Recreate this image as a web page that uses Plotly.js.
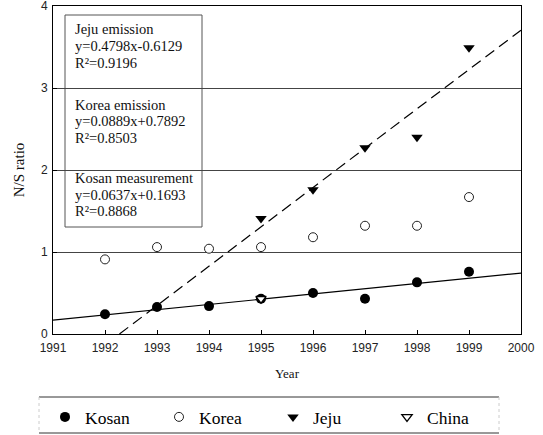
<!DOCTYPE html>
<html>
<head>
<meta charset="utf-8">
<script src="https://cdn.plot.ly/plotly-3.0.1.min.js"></script>
<style>
  html, body { margin: 0; padding: 0; background: #fff; }
  #chart { width: 543px; height: 435px; }
</style>
</head>
<body>
<div id="chart"></div>
<script>
// N/S ratio by year
const years = [1992, 1993, 1994, 1995, 1996, 1997, 1998, 1999];
const kosan = [0.24, 0.33, 0.34, 0.43, 0.50, 0.43, 0.63, 0.76];
const korea = [0.91, 1.06, 1.04, 1.06, 1.18, 1.32, 1.32, 1.67];
const jejuYears = [1995, 1996, 1997, 1998, 1999];
const jeju = [1.41, 1.76, 2.27, 2.40, 3.49];
const chinaYears = [1995];
const china = [0.43];

// Regression fits, x counted in years since 1991
const fitNames = ['Jeju emission', 'Korea emission', 'Kosan measurement'];
const fitSlopes = [0.4798, 0.0889, 0.0637];
const fitIntercepts = [-0.6129, 0.7892, 0.1693];
const fitR2 = [0.9196, 0.8503, 0.8868];
const baseYear = 1991;

const xTicks = [1991, 1992, 1993, 1994, 1995, 1996, 1997, 1998, 1999, 2000];
const yTicks = [0, 1, 2, 3, 4];

// Plot-area geometry in pixels, used to place the text box and legend frame
const W = 543, H = 435;
const M = { l: 53, r: 22, t: 6, b: 101 };
const PW = W - M.l - M.r, PH = H - M.t - M.b;
const px = x => (x - M.l) / PW;
const py = y => (H - M.b - y) / PH;

const SERIF = 'Liberation Serif, Times New Roman, serif';
const SANS = 'Liberation Sans, Arial, sans-serif';

function fitLine(i, yearFrom, yearTo) {
  const s = fitSlopes[i], b = fitIntercepts[i];
  const f = yr => s * (yr - baseYear) + b;
  let x0 = yearFrom;
  if (f(x0) < 0) x0 = baseYear - b / s; // start where the fit crosses zero
  return { x: [x0, yearTo], y: [f(x0), f(yearTo)] };
}

const jejuFit = fitLine(0, baseYear, 2000);
const kosanFit = fitLine(2, baseYear, 2000);

const traces = [
  { x: kosanFit.x, y: kosanFit.y, mode: 'lines', showlegend: false, hoverinfo: 'skip',
    line: { color: '#000', width: 1.2 } },
  { x: jejuFit.x, y: jejuFit.y, mode: 'lines', showlegend: false, hoverinfo: 'skip',
    line: { color: '#000', width: 1.2, dash: '11px,6px' } },
  { x: years, y: kosan, name: 'Kosan', mode: 'markers', type: 'scatter',
    marker: { symbol: 'circle', size: 10, color: '#000' } },
  { x: years, y: korea, name: 'Korea', mode: 'markers', type: 'scatter',
    marker: { symbol: 'circle', size: 9, color: '#fff', line: { color: '#222', width: 1 } } },
  { x: jejuYears, y: jeju, name: 'Jeju', mode: 'markers', type: 'scatter',
    marker: { symbol: 'triangle-down', size: 10, color: '#000' } },
  { x: chinaYears, y: china, name: 'China', mode: 'markers', type: 'scatter',
    marker: { symbol: 'triangle-down', size: 9, color: '#fff', line: { color: '#000', width: 1.3 } } }
];

// Equation text box
const textRows = [29, 46, 63, 105, 121, 138, 178, 195, 211];
const annotations = [];
fitNames.forEach((name, i) => {
  const sign = fitIntercepts[i] < 0 ? '-' : '+';
  const lines = [
    name,
    'y=' + fitSlopes[i].toFixed(4) + 'x' + sign + Math.abs(fitIntercepts[i]).toFixed(4),
    'R\u00b2=' + fitR2[i].toFixed(4)
  ];
  lines.forEach((t, j) => {
    annotations.push({
      text: t, xref: 'paper', yref: 'paper', x: px(73), y: py(textRows[i * 3 + j]),
      xanchor: 'left', yanchor: 'middle', showarrow: false,
      font: { family: SERIF, size: 14.5, color: '#111' }
    });
  });
});

const shapes = [
  // equation box
  { type: 'rect', xref: 'paper', yref: 'paper', x0: px(65), x1: px(202), y0: py(227), y1: py(15),
    fillcolor: '#fff', line: { color: '#555', width: 1 }, layer: 'between' },
  // legend frame: solid top and bottom rules, faint sides
  { type: 'line', xref: 'paper', yref: 'paper', x0: px(39), x1: px(499), y0: py(397), y1: py(397),
    line: { color: '#333', width: 1 } },
  { type: 'line', xref: 'paper', yref: 'paper', x0: px(39), x1: px(499), y0: py(433), y1: py(433),
    line: { color: '#333', width: 1 } },
  { type: 'line', xref: 'paper', yref: 'paper', x0: px(39), x1: px(39), y0: py(397), y1: py(433),
    line: { color: '#ccc', width: 1, dash: 'dot' } },
  { type: 'line', xref: 'paper', yref: 'paper', x0: px(499), x1: px(499), y0: py(397), y1: py(433),
    line: { color: '#ccc', width: 1, dash: 'dot' } }
];

const layout = {
  width: W, height: H,
  margin: M,
  paper_bgcolor: '#fff', plot_bgcolor: '#fff',
  showlegend: true,
  legend: {
    orientation: 'h', xref: 'container', yref: 'container',
    x: 45 / W, y: (H - 417) / H, xanchor: 'left', yanchor: 'middle',
    entrywidth: 69, font: { family: SERIF, size: 17.5, color: '#000' },
    bgcolor: 'rgba(0,0,0,0)', borderwidth: 0, traceorder: 'normal'
  },
  xaxis: {
    range: [1991, 2000], tickvals: xTicks, ticktext: xTicks.map(String),
    ticks: 'inside', ticklen: 4, tickcolor: '#000', ticklabelstandoff: 3,
    ticklabeloverflow: 'allow',
    showline: true, linecolor: '#000', linewidth: 1, mirror: true,
    showgrid: false, zeroline: false,
    tickfont: { family: SANS, size: 12, color: '#222' },
    title: { text: 'Year', font: { family: SERIF, size: 13, color: '#111' }, standoff: 14 }
  },
  yaxis: {
    range: [0, 4], tickvals: yTicks, ticktext: yTicks.map(String),
    ticks: 'inside', ticklen: 4, tickcolor: '#000', ticklabelstandoff: 2,
    ticklabeloverflow: 'allow',
    showline: true, linecolor: '#000', linewidth: 1, mirror: true,
    showgrid: true, gridcolor: '#444', gridwidth: 1, zeroline: false,
    tickfont: { family: SANS, size: 12, color: '#222' },
    title: { text: 'N/S ratio', font: { family: SERIF, size: 15, color: '#111' }, standoff: 12 }
  },
  annotations: annotations,
  shapes: shapes
};

Plotly.newPlot('chart', traces, layout, { staticPlot: true, displayModeBar: false });
</script>
</body>
</html>
